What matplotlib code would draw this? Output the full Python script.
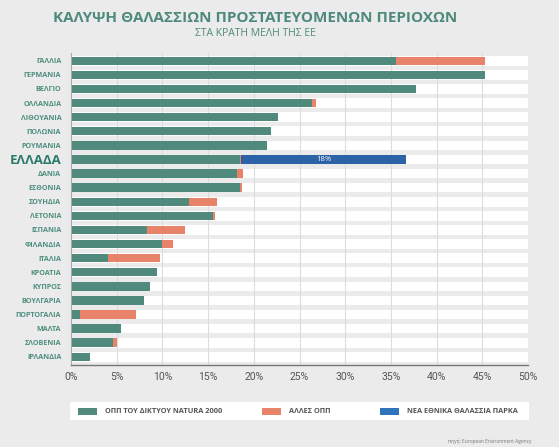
import matplotlib
matplotlib.use("Agg")
import matplotlib.pyplot as plt
from matplotlib.patches import Rectangle
import numpy as np

countries = ["ΓΑΛΛΙΑ", "ΓΕΡΜΑΝΙΑ", "ΒΕΛΓΙΟ", "ΟΛΛΑΝΔΙΑ", "ΛΙΘΟΥΑΝΙΑ", "ΠΟΛΩΝΙΑ",
             "ΡΟΥΜΑΝΙΑ", "ΕΛΛΑΔΑ", "ΔΑΝΙΑ", "ΕΣΘΟΝΙΑ", "ΣΟΥΗΔΙΑ", "ΛΕΤΟΝΙΑ",
             "ΙΣΠΑΝΙΑ", "ΦΙΛΑΝΔΙΑ", "ΙΤΑΛΙΑ", "ΚΡΟΑΤΙΑ", "ΚΥΠΡΟΣ", "ΒΟΥΛΓΑΡΙΑ",
             "ΠΟΡΤΟΓΑΛΙΑ", "ΜΑΛΤΑ", "ΣΛΟΒΕΝΙΑ", "ΙΡΛΑΝΔΙΑ"]
natura = [35.6, 45.3, 37.8, 26.4, 22.7, 21.9, 21.4, 18.5, 18.2, 18.5, 12.9, 15.5,
          8.3, 10.0, 4.0, 9.4, 8.6, 8.0, 1.0, 5.5, 4.6, 2.1]
other = [9.7, 0.0, 0.0, 0.4, 0.0, 0.0, 0.0, 0.15, 0.6, 0.2, 3.1, 0.3,
         4.2, 1.2, 5.7, 0.0, 0.0, 0.0, 6.1, 0.0, 0.4, 0.0]
parks = [0, 0, 0, 0, 0, 0, 0, 18.0, 0, 0, 0, 0, 0, 0, 0, 0, 0, 0, 0, 0, 0, 0]
xticks = [0, 5, 10, 15, 20, 25, 30, 35, 40, 45, 50]
legend_labels = ["ΟΠΠ ΤΟΥ ΔΙΚΤΥΟΥ NATURA 2000", "ΑΛΛΕΣ ΟΠΠ", "ΝΕΑ ΕΘΝΙΚΑ ΘΑΛΑΣΣΙΑ ΠΑΡΚΑ"]

BG = "#ebebeb"
GREEN = "#4f8a7c"
ORANGE = "#e8836a"
BLUE = "#2c62a6"
LBLUE = "#2e74bd"
TEAL = "#4e8f80"

plt.rcParams['font.family'] = ['Open Sans', 'DejaVu Sans']

fig = plt.figure(figsize=(5.59, 4.47), dpi=100, facecolor=BG)
W, H = 559, 447
ax = fig.add_axes([71 / W, 1 - 365 / H, (528 - 71) / W, (365 - 53) / H])
ax.set_facecolor(BG)

n = len(countries)
y = np.arange(n)
ax.barh(y, [50] * n, height=0.68, color="white", zorder=0)
for xt in xticks[1:]:
    ax.axvline(xt, color="#dcdcdc", lw=0.8, zorder=1)

ax.barh(y, natura, height=0.6, color=GREEN, zorder=2)
ax.barh(y, other, left=natura, height=0.6, color=ORANGE, zorder=2)
left2 = [a + b for a, b in zip(natura, other)]
ax.barh(y, parks, left=left2, height=0.6, color=BLUE, zorder=2)
for i, p in enumerate(parks):
    if p > 0:
        ax.text(left2[i] + p / 2, i, f"{p:.0f}%", color="white", fontsize=5.5,
                ha="center", va="center", zorder=3)

ax.set_xlim(0, 50)
ax.set_ylim(21.58, -0.55)
ax.set_xticks(xticks)
ax.set_xticklabels([f"{t}%" for t in xticks], fontsize=7.5, color="#555555",
                   family=['Roboto', 'DejaVu Sans'])
ax.set_yticks(y)
ax.set_yticklabels(countries)
for lab in ax.get_yticklabels():
    if lab.get_text() == "ΕΛΛΑΔΑ":
        lab.set_fontsize(9.5)
        lab.set_fontweight("bold")
        lab.set_color("#2b7a6a")
    else:
        lab.set_fontsize(5.2)
        lab.set_fontweight("bold")
        lab.set_color(TEAL)
ax.tick_params(axis="y", length=0, pad=7)
ax.tick_params(axis="x", length=0, pad=5)
for s in ["top", "right"]:
    ax.spines[s].set_visible(False)
ax.spines["left"].set_color("#aaaaaa")
ax.spines["left"].set_linewidth(0.8)
ax.spines["bottom"].set_color("#777777")
ax.spines["bottom"].set_linewidth(1.0)

# title
fig.text(255 / W, 1 - 18 / H, "ΚΑΛΥΨΗ ΘΑΛΑΣΣΙΩΝ ΠΡΟΣΤΑΤΕΥΟΜΕΝΩΝ ΠΕΡΙΟΧΩΝ",
         ha="center", va="center", fontsize=11, fontweight="bold", color="#4d8a7c")
fig.text(255 / W, 1 - 33 / H, "ΣΤΑ ΚΡΑΤΗ ΜΕΛΗ ΤΗΣ ΕΕ",
         ha="center", va="center", fontsize=7.5, color="#4d8a7c")

# legend box
fig.patches.append(Rectangle((70 / W, 1 - 420 / H), (529 - 70) / W, 18 / H,
                             transform=fig.transFigure, facecolor="white",
                             edgecolor="none", zorder=0))
items = [(78, 105, GREEN), (262, 289, ORANGE), (380, 407, LBLUE)]
for (px, tx, c), lab in zip(items, legend_labels):
    fig.patches.append(Rectangle((px / W, 1 - 415 / H), 19 / W, 7 / H,
                                 transform=fig.transFigure, facecolor=c,
                                 edgecolor="none", zorder=1))
    fig.text(tx / W, 1 - 411.5 / H, lab, ha="left", va="center", fontsize=5.3,
             fontweight="bold", color="#555555")

fig.text(532 / W, 1 - 441 / H, "πηγή: European Environment Agency", ha="right",
         va="center", fontsize=3.5, color="#777777")

fig.savefig("out.png", dpi=100, facecolor=BG)
